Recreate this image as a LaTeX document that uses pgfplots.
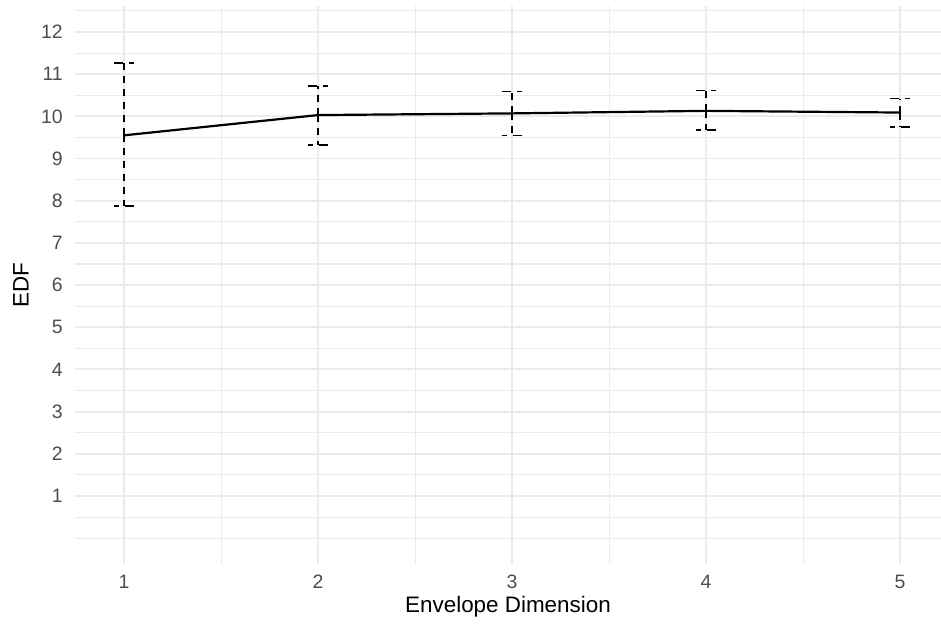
\documentclass[border=0pt]{standalone}
\usepackage{fontspec}
\setmainfont{Liberation Sans}
\usepackage{pgfplots}
\pgfplotsset{compat=1.18}
\usetikzlibrary{calc}
\definecolor{gridc}{HTML}{EBEBEB}
\definecolor{tickc}{HTML}{4D4D4D}
\begin{document}
\begin{tikzpicture}
\begin{axis}[
  name=ax,
  scale only axis,
  width=866bp, height=558bp,
  xmin=0.747, xmax=5.211,
  ymin=-0.613, ymax=12.616,
  axis line style={draw=none},
  tick style={draw=none},
  major tick length=0pt, minor tick length=0pt,
  xtick={1,2,3,4,5},
  minor xtick={1.5,2.5,3.5,4.5},
  ytick={1,2,...,12},
  minor ytick={0,0.5,1.5,2.5,3.5,4.5,5.5,6.5,7.5,8.5,9.5,10.5,11.5,12.5},
  grid=both,
  major grid style={draw=gridc, line width=1.9bp},
  minor grid style={draw=gridc, line width=1.1bp},
  /pgf/number format/assume math mode=true,
  tick label style={font=\fontsize{19.5}{22}\selectfont, text=tickc},
  yticklabel style={anchor=east, inner sep=0pt, xshift=-12bp},
  xticklabel style={anchor=north, inner sep=0pt, yshift=-11bp},
  xlabel={Envelope Dimension},
  ylabel={EDF},
  xlabel style={at={(axis description cs:0.5,-0.0873)}, anchor=base, inner sep=0pt, font=\fontsize{22.5}{26}\selectfont},
  ylabel style={at={(axis description cs:-0.0624,0.5)}, anchor=center, inner sep=0pt, font=\fontsize{22.5}{26}\selectfont},
]
\addplot[black, line width=2.2bp, mark=none,
  error bars/.cd, y dir=both, y explicit,
  error bar style={line width=1.4bp, dash pattern=on 7bp off 6bp},
  error mark options={rotate=90, line width=1.4bp, mark size=10bp, dash pattern=on 9bp off 6bp}]
coordinates {
  (1,9.55)  += (0,1.71)  -= (0,1.675)
  (2,10.03) += (0,0.69)  -= (0,0.71)
  (3,10.07) += (0,0.515) -= (0,0.53)
  (4,10.13) += (0,0.48)  -= (0,0.45)
  (5,10.09) += (0,0.33)  -= (0,0.34)
};
\end{axis}
\pgfresetboundingbox
\path[use as bounding box] ($(ax.south west)+(-75bp,-62bp)$) rectangle ($(ax.north east)+(0,6bp)$);
\end{tikzpicture}
\end{document}
